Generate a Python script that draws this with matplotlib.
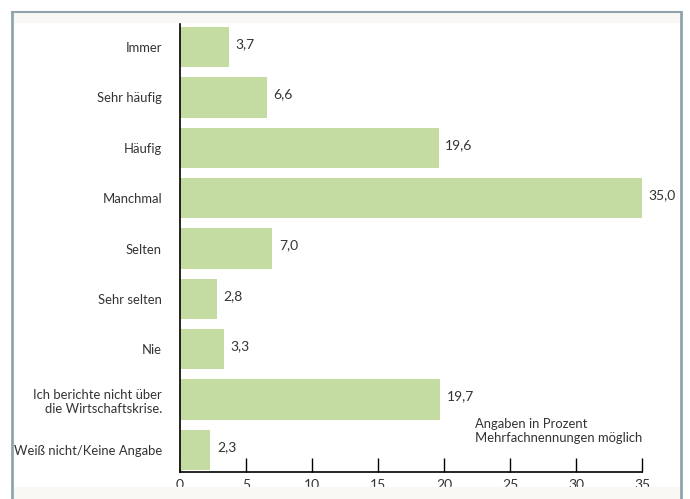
import matplotlib
matplotlib.use("Agg")
import matplotlib.pyplot as plt
from matplotlib.patches import Rectangle

categories = [
    "Immer",
    "Sehr häufig",
    "Häufig",
    "Manchmal",
    "Selten",
    "Sehr selten",
    "Nie",
    "Ich berichte nicht über\ndie Wirtschaftskrise.",
    "Weiß nicht/Keine Angabe",
]
values = [3.7, 6.6, 19.6, 35.0, 7.0, 2.8, 3.3, 19.7, 2.3]
x_ticks = [0, 5, 10, 15, 20, 25, 30, 35]
note = "Angaben in Prozent\nMehrfachnennungen möglich"

text_color = "#333333"
bar_color = "#c4dba2"
frame_color = "#90a4ae"
strip_color = "#faf8f5"

plt.rcParams["font.family"] = ["Lato", "DejaVu Sans"]

fig = plt.figure(figsize=(6.9, 4.99), dpi=100)
W, H = 690, 499

# outer panel: light strips top and bottom, grey-blue border
fig.patches.append(Rectangle((12 / W, 1 - 22 / H), 669 / W, 10 / H,
                             transform=fig.transFigure, color=strip_color, zorder=0))
fig.patches.append(Rectangle((12 / W, 0), 669 / W, 12 / H,
                             transform=fig.transFigure, color=strip_color, zorder=0))
fig.lines.append(plt.Line2D([12 / W, 12 / W], [0, 1 - 12 / H], transform=fig.transFigure,
                            color=frame_color, lw=2))
fig.lines.append(plt.Line2D([681 / W, 681 / W], [0, 1 - 12 / H], transform=fig.transFigure,
                            color=frame_color, lw=2))
fig.lines.append(plt.Line2D([12 / W, 681 / W], [1 - 12 / H, 1 - 12 / H], transform=fig.transFigure,
                            color=frame_color, lw=1.5))

ax = fig.add_axes([180 / W, 1 - 472 / H, (642 - 180) / W, (472 - 23) / H])
ax.set_facecolor("none")

y = list(range(len(categories)))
ax.barh(y, values, height=0.8, color=bar_color, zorder=2)
for yi, v in zip(y, values):
    ax.text(v + 0.5, yi - 0.06, f"{v:.1f}".replace(".", ","), va="center", ha="left",
            fontsize=10, color=text_color)

ax.set_xlim(0, 35)
ax.set_ylim(8.44, -0.48)
ax.set_yticks(y)
ax.set_yticklabels(categories, fontsize=9.4, color=text_color, ha="right", multialignment="right")
ax.tick_params(axis="y", length=0, pad=13)
ax.set_xticks(x_ticks)
ax.set_xticklabels([str(t) for t in x_ticks], fontsize=10, color=text_color)
ax.tick_params(axis="x", direction="in", length=10, width=1, color="black", pad=5)

for side in ("top", "right"):
    ax.spines[side].set_visible(False)
for side in ("left", "bottom"):
    ax.spines[side].set_color("black")
    ax.spines[side].set_linewidth(1.2)

ax.text(22.35, 7.36, note, ha="left", va="top", fontsize=9.4, color=text_color, linespacing=1.25)

fig.savefig("out.png", dpi=100)
